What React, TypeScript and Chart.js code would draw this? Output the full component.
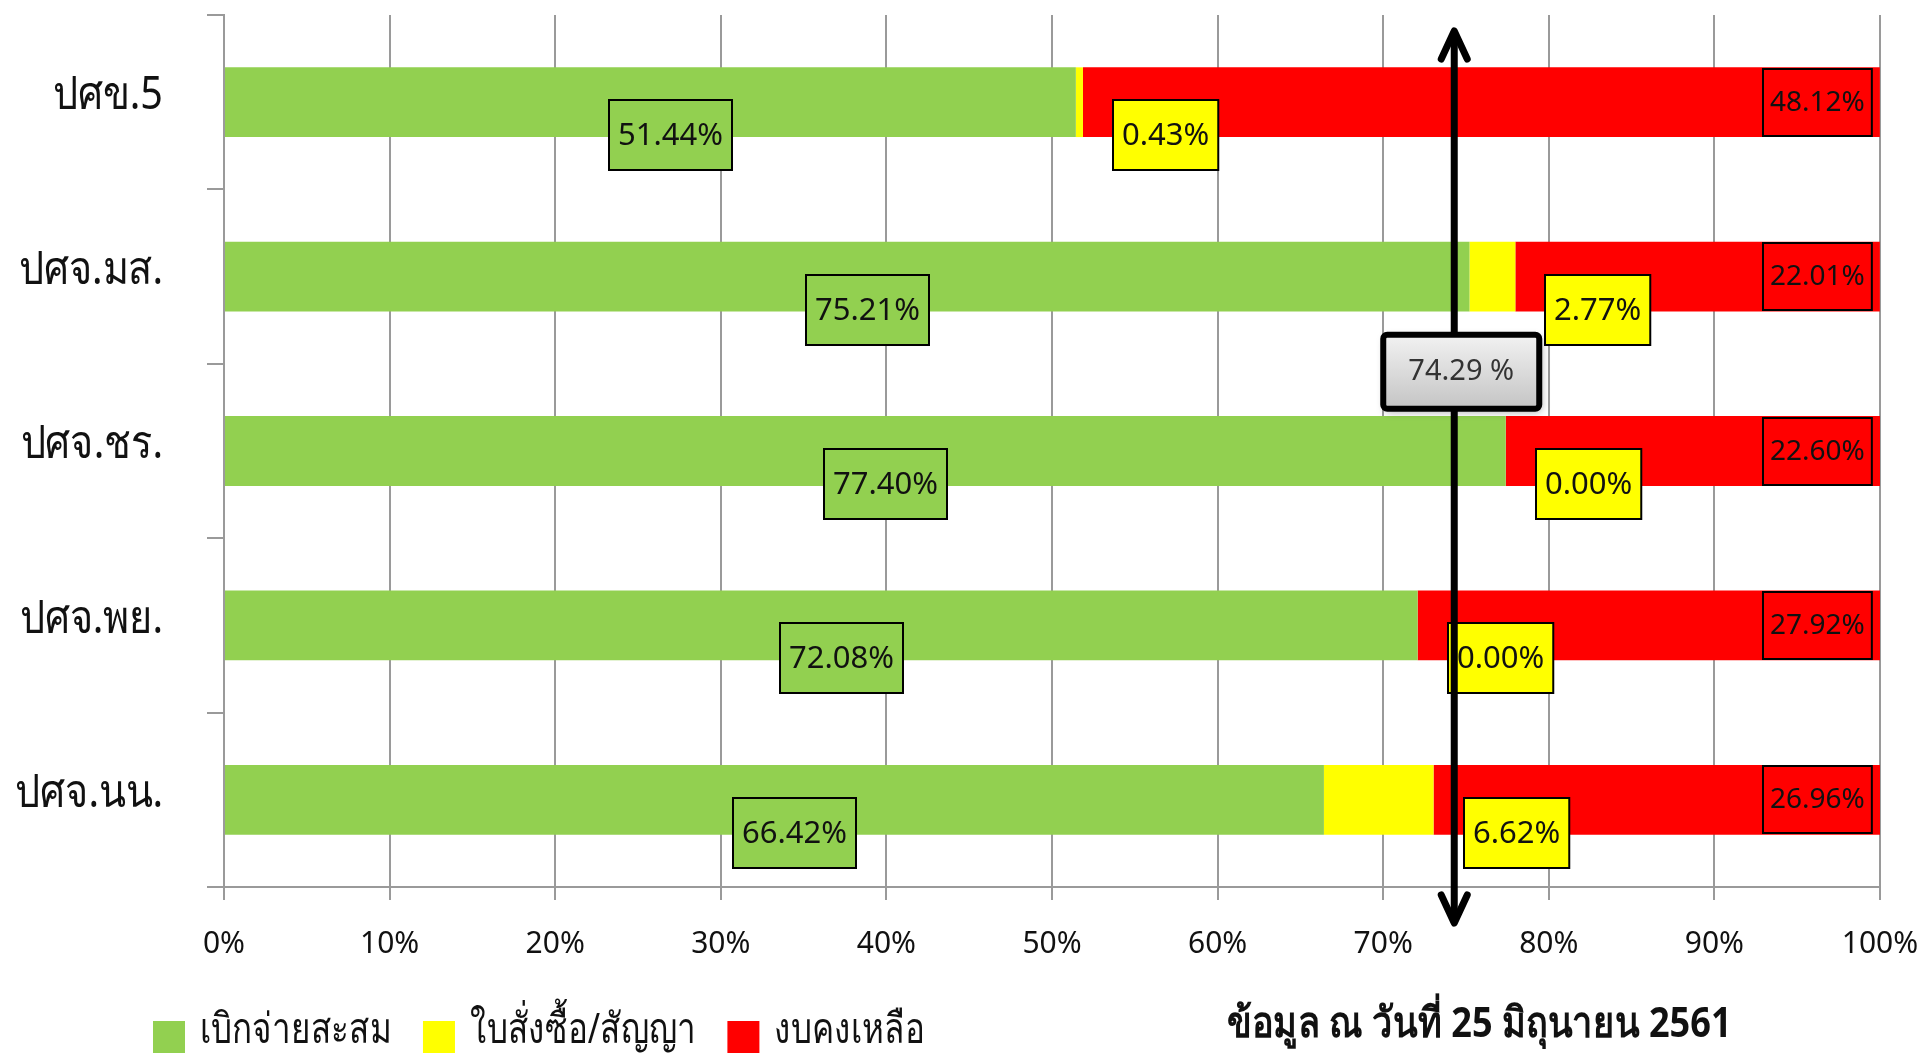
import React, { useEffect, useRef } from "react";
import { Chart, registerables } from "chart.js";

Chart.register(...registerables);

const categories = ["ปศข.5", "ปศจ.มส.", "ปศจ.ชร.", "ปศจ.พย.", "ปศจ.นน."];
const disbursed = [51.44, 75.21, 77.4, 72.08, 66.42];
const committed = [0.43, 2.77, 0.0, 0.0, 6.62];
const remaining = [48.12, 22.01, 22.6, 27.92, 26.96];
const seriesNames = ["เบิกจ่ายสะสม", "ใบสั่งซื้อ/สัญญา", "งบคงเหลือ"];
const seriesColors = ["#92D050", "#FFFF00", "#FF0000"];
const averageValue = 74.29;
const averageLabel = "74.29 %";
const noteText = "ข้อมูล ณ วันที่ 25 มิถุนายน 2561";

const FONT = '"Noto Sans", sans-serif';

function drawCondensed(ctx: CanvasRenderingContext2D, text: string, x: number, y: number, sx: number, align: "left" | "right") {
  ctx.save();
  ctx.translate(x, y);
  ctx.scale(sx, 1);
  ctx.textAlign = align;
  ctx.fillText(text, 0, 0);
  ctx.restore();
}

const categoryLabelPlugin = {
  id: "categoryLabels",
  afterDraw(chart: any) {
    const ctx = chart.ctx;
    const ys = chart.scales.y;
    ctx.save();
    ctx.font = `46px ${FONT}`;
    ctx.fillStyle = "#111";
    ctx.textBaseline = "middle";
    chart.data.labels.forEach((lab: string, i: number) => {
      const y = ys.getPixelForValue(i);
      drawCondensed(ctx, lab, ys.right - 17 - 44, y - 6, 0.86, "right");
    });
    ctx.restore();
  },
};

const boxLabelPlugin = {
  id: "boxLabels",
  afterDatasetsDraw(chart: any) {
    const ctx = chart.ctx;
    const area = chart.chartArea;
    ctx.save();
    chart.data.datasets.forEach((ds: any, di: number) => {
      const meta = chart.getDatasetMeta(di);
      meta.data.forEach((el: any, i: number) => {
        const v = ds.data[i] as number;
        const text = v.toFixed(2) + "%";
        const p = el.getProps(["x", "y", "base", "height"], true);
        const size = di === 2 ? 28 : 31;
        ctx.font = `${size}px ${FONT}`;
        const tw = ctx.measureText(text).width;
        const padX = di === 2 ? 7 : 9;
        const w = tw + padX * 2;
        let h = 70;
        let cx: number;
        let cy: number;
        if (di === 0) {
          cx = (p.base + p.x) / 2 + 20;
          cy = p.y + 33;
        } else if (di === 1) {
          cx = p.x + 30 + w / 2;
          cy = p.y + 33;
        } else {
          h = 67;
          cx = area.right - 8 - w / 2;
          cy = p.y;
        }
        const x0 = Math.round(cx - w / 2);
        const y0 = Math.round(cy - h / 2);
        ctx.fillStyle = seriesColors[di];
        ctx.fillRect(x0, y0, w, h);
        ctx.lineWidth = 2;
        ctx.strokeStyle = "#000";
        ctx.strokeRect(x0, y0, w, h);
        ctx.fillStyle = "#111";
        ctx.textAlign = "center";
        ctx.textBaseline = "middle";
        ctx.fillText(text, x0 + w / 2, y0 + h / 2 + 1);
      });
    });
    ctx.restore();
  },
};

const averagePlugin = {
  id: "averageArrow",
  afterDraw(chart: any) {
    const ctx = chart.ctx;
    const area = chart.chartArea;
    const xs = chart.scales.x;
    const ys = chart.scales.y;
    const x = xs.getPixelForValue(averageValue);
    const top = area.top + 16;
    const bottom = area.bottom + 36;
    ctx.save();
    ctx.strokeStyle = "#000";
    ctx.lineWidth = 7;
    ctx.lineCap = "round";
    ctx.lineJoin = "round";
    ctx.beginPath();
    ctx.moveTo(x, top + 2);
    ctx.lineTo(x, bottom - 2);
    ctx.stroke();
    ctx.beginPath();
    ctx.moveTo(x - 13, top + 28);
    ctx.lineTo(x, top);
    ctx.lineTo(x + 13, top + 28);
    ctx.moveTo(x - 13, bottom - 28);
    ctx.lineTo(x, bottom);
    ctx.lineTo(x + 13, bottom - 28);
    ctx.stroke();

    const cy = (ys.getPixelForValue(1) + ys.getPixelForValue(2)) / 2 + 8;
    const bw = 156;
    const bh = 74;
    const bx = x + 7 - bw / 2;
    const by = cy - bh / 2;
    ctx.shadowColor = "rgba(0,0,0,0.35)";
    ctx.shadowBlur = 8;
    ctx.shadowOffsetX = 2;
    ctx.shadowOffsetY = 3;
    const g = ctx.createLinearGradient(0, by, 0, by + bh);
    g.addColorStop(0, "#f2f2f2");
    g.addColorStop(1, "#c4c4c4");
    ctx.fillStyle = g;
    ctx.beginPath();
    ctx.roundRect(bx, by, bw, bh, 4);
    ctx.fill();
    ctx.shadowColor = "transparent";
    ctx.lineWidth = 6;
    ctx.strokeStyle = "#000";
    ctx.stroke();
    ctx.fillStyle = "#333";
    ctx.font = `29px ${FONT}`;
    ctx.textAlign = "center";
    ctx.textBaseline = "middle";
    ctx.fillText(averageLabel, bx + bw / 2, by + bh / 2);
    ctx.restore();
  },
};

const legendPlugin = {
  id: "customLegend",
  afterDraw(chart: any) {
    const ctx = chart.ctx;
    const h = chart.height;
    ctx.save();
    ctx.font = `42px ${FONT}`;
    ctx.textBaseline = "middle";
    const sx = 0.79;
    let x = 153;
    const cy = h - 16;
    chart.data.datasets.forEach((ds: any) => {
      ctx.fillStyle = ds.backgroundColor;
      ctx.fillRect(x, cy - 16, 32, 32);
      ctx.fillStyle = "#111";
      const tx = x + 47;
      drawCondensed(ctx, ds.label, tx, cy - 6, sx, "left");
      x = tx + ctx.measureText(ds.label).width * sx + 31;
    });
    ctx.font = `bold 42px ${FONT}`;
    ctx.fillStyle = "#111";
    drawCondensed(ctx, noteText, 1227, h - 28, 0.86, "left");
    ctx.restore();
  },
};

export default function App() {
  const ref = useRef<HTMLCanvasElement | null>(null);
  useEffect(() => {
    if (!ref.current) return;
    const chart = new Chart(ref.current, {
      type: "bar",
      data: {
        labels: categories,
        datasets: [
          { label: seriesNames[0], data: disbursed, backgroundColor: seriesColors[0] },
          { label: seriesNames[1], data: committed, backgroundColor: seriesColors[1] },
          { label: seriesNames[2], data: remaining, backgroundColor: seriesColors[2] },
        ],
      },
      options: {
        animation: false,
        responsive: true,
        maintainAspectRatio: false,
        indexAxis: "y",
        layout: { padding: { top: 15, right: 44, left: 0, bottom: 0 } },
        datasets: { bar: { barPercentage: 0.4, categoryPercentage: 1 } },
        plugins: {
          legend: { display: false },
          tooltip: { enabled: false },
        },
        scales: {
          x: {
            stacked: true,
            min: 0,
            max: 100,
            ticks: {
              stepSize: 10,
              padding: 26,
              color: "#111",
              font: { family: FONT, size: 30 },
              callback: (v: any) => v + "%",
            },
            grid: { color: "#9a9a9a", lineWidth: 2, tickLength: 13 },
            border: { color: "#9a9a9a", width: 2 },
            afterFit: (s: any) => {
              s.height = 166;
              s.paddingLeft = 0;
              s.paddingRight = 0;
            },
          },
          y: {
            stacked: true,
            ticks: { display: false },
            grid: { drawOnChartArea: false, color: "#9a9a9a", lineWidth: 2, tickLength: 17, offset: true },
            border: { color: "#9a9a9a", width: 2 },
            afterFit: (s: any) => {
              s.width = 224;
              s.paddingTop = 0;
              s.paddingBottom = 0;
            },
          },
        },
      },
      plugins: [boxLabelPlugin, categoryLabelPlugin, averagePlugin, legendPlugin],
    } as any);
    return () => chart.destroy();
  }, []);
  return (
    <div style={{ position: "fixed", left: 0, top: 0, width: "1924px", height: "1053px", background: "#fff" }}>
      <canvas ref={ref} />
    </div>
  );
}
